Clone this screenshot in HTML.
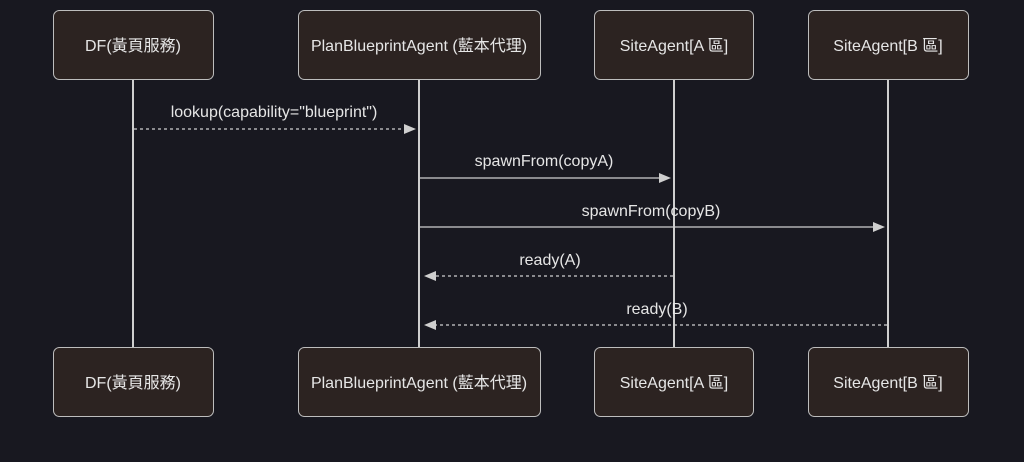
<!DOCTYPE html>
<html><head><meta charset="utf-8"><style>
html,body{margin:0;padding:0;background:#181820;}
svg{display:block}
text{font-family:"Liberation Sans","Noto Sans CJK TC",sans-serif;font-size:16px;fill:#e6e6e6;text-anchor:middle;}
</style></head><body>
<svg width="1024" height="462" viewBox="0 0 1024 462">
<rect width="1024" height="462" fill="#181820"/>
<g stroke="#cfcfcf" stroke-width="2">
<line x1="133" y1="80" x2="133" y2="347"/>
<line x1="419" y1="80" x2="419" y2="347"/>
<line x1="674" y1="80" x2="674" y2="347"/>
<line x1="888" y1="80" x2="888" y2="347"/>
</g>
<g fill="#2c2321" stroke="#bdbdbd" stroke-width="1">
<rect x="53.5" y="10.5" width="160" height="69" rx="6"/>
<rect x="298.5" y="10.5" width="242" height="69" rx="6"/>
<rect x="594.5" y="10.5" width="159" height="69" rx="6"/>
<rect x="808.5" y="10.5" width="160" height="69" rx="6"/>
<rect x="53.5" y="347.5" width="160" height="69" rx="6"/>
<rect x="298.5" y="347.5" width="242" height="69" rx="6"/>
<rect x="594.5" y="347.5" width="159" height="69" rx="6"/>
<rect x="808.5" y="347.5" width="160" height="69" rx="6"/>
</g>
<text x="133" y="51">DF(黃頁服務)</text>
<text x="419" y="51">PlanBlueprintAgent (藍本代理)</text>
<text x="674" y="51">SiteAgent[A 區]</text>
<text x="888" y="51">SiteAgent[B 區]</text>
<text x="133" y="388">DF(黃頁服務)</text>
<text x="419" y="388">PlanBlueprintAgent (藍本代理)</text>
<text x="674" y="388">SiteAgent[A 區]</text>
<text x="888" y="388">SiteAgent[B 區]</text>
<g stroke="#cfcfcf" stroke-width="1.2">
<line x1="134" y1="129" x2="404" y2="129" stroke-dasharray="3,3"/>
<line x1="420" y1="178" x2="660" y2="178"/>
<line x1="420" y1="227" x2="874" y2="227"/>
<line x1="673" y1="276" x2="434" y2="276" stroke-dasharray="3,3"/>
<line x1="887" y1="325" x2="434" y2="325" stroke-dasharray="3,3"/>
</g>
<g fill="#cfcfcf">
<polygon points="404,124 416,129 404,134"/>
<polygon points="659,173 671,178 659,183"/>
<polygon points="873,222 885,227 873,232"/>
<polygon points="436,271 424,276 436,281"/>
<polygon points="436,320 424,325 436,330"/>
</g>
<text x="274" y="117">lookup(capability="blueprint")</text>
<text x="544" y="166">spawnFrom(copyA)</text>
<text x="651" y="216">spawnFrom(copyB)</text>
<text x="550" y="265">ready(A)</text>
<text x="657" y="314">ready(B)</text>
</svg>
</body></html>
